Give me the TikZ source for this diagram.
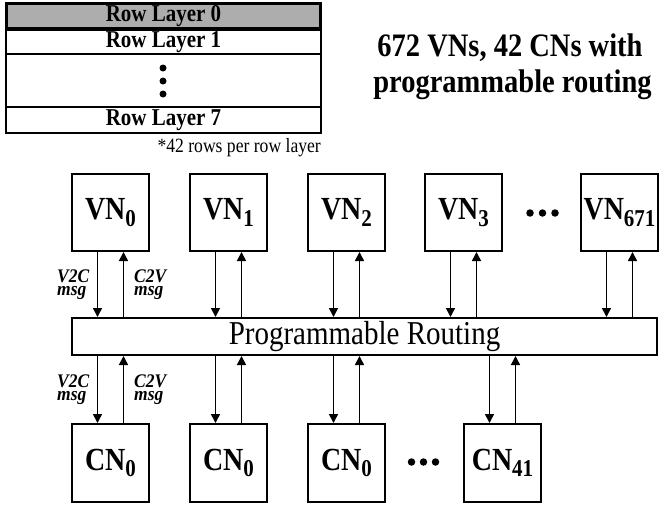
\documentclass[tikz,border=0pt]{standalone}
\usepackage{fontspec}
\setmainfont{Liberation Serif}
\usetikzlibrary{arrows.meta}
\newcommand{\sbs}[1]{\raisebox{-0.2em}{\fontsize{21}{21}\selectfont #1}}
\newcommand{\vs}[1]{\scalebox{1}[1.15]{#1}}
\newcommand{\vsl}[1]{\scalebox{1}[1.1]{#1}}
\begin{document}
\begin{tikzpicture}[x=1pt,y=-1pt,
  nbox/.style={draw, line width=2pt, minimum width=77pt, minimum height=77pt, inner sep=0pt, font=\fontsize{28}{28}\selectfont\bfseries},
  rowbox/.style={draw, line width=2pt, minimum width=315pt, inner sep=0pt, font=\fontsize{21}{21}\selectfont\bfseries},
  arr/.style={line width=1.6pt, -{Triangle[width=9pt,length=9pt]}},
  lbl/.style={inner sep=0pt, anchor=base west, font=\fontsize{17.5}{17.5}\selectfont\bfseries\itshape},
  dotc/.style={circle, fill=black, inner sep=0pt, minimum size=7.5pt}
]
\useasboundingbox (0,0) rectangle (659,506);
% row layer table
\node[rowbox, minimum height=24pt] (r1) at (163.5,42) {\vs{Row Layer 1}};
\node[rowbox, minimum height=53pt] (rd) at (163.5,80.5) {};
\node[rowbox, minimum height=26pt] (r7) at (163.5,120) {\vs{Row Layer 7}};
\node[rowbox, line width=3pt, minimum width=314pt, minimum height=25pt, fill=black!32] (r0) at (163.5,16) {\vs{Row Layer 0}};
\node[dotc, minimum size=7pt] (vd1) at (163,68) {};
\node[dotc, minimum size=7pt] (vd2) at (163,81) {};
\node[dotc, minimum size=7pt] (vd3) at (163,94) {};
\node[anchor=east, inner sep=0pt, font=\fontsize{17.6}{17.6}\selectfont] (note) at (321,148) {\vs{*42 rows per row layer}};
% title
\node[inner sep=0pt, font=\fontsize{28.5}{28.5}\selectfont\bfseries] (title1) at (510,48) {\vs{672 VNs, 42 CNs with}};
\node[inner sep=0pt, font=\fontsize{28.5}{28.5}\selectfont\bfseries] (title2) at (512.5,85) {\vs{programmable routing}};
% VNs
\node[nbox] (v0) at (110.5,212.5) {\vs{VN\sbs{0}}};
\node[nbox] (v1) at (228.5,212.5) {\vs{VN\sbs{1}}};
\node[nbox] (v2) at (346.5,212.5) {\vs{VN\sbs{2}}};
\node[nbox] (v3) at (463.5,212.5) {\vs{VN\sbs{3}}};
\node[nbox] (v671) at (619.5,212.5) {\vs{VN\sbs{671}}};
\node[dotc] (hd1) at (530,213) {};
\node[dotc] (hd2) at (542.5,213) {};
\node[dotc] (hd3) at (555,213) {};
% routing
\node[draw, line width=2pt, minimum width=585pt, minimum height=37pt, inner sep=0pt, font=\fontsize{29}{29}\selectfont] (R) at (364.5,336.5) {\vs{Programmable Routing}};
% CNs
\node[nbox, minimum height=78pt] (c0) at (110.5,463) {\vs{CN\sbs{0}}};
\node[nbox, minimum height=78pt] (c1) at (228.5,463) {\vs{CN\sbs{0}}};
\node[nbox, minimum height=78pt] (c2) at (346.5,463) {\vs{CN\sbs{0}}};
\node[nbox, minimum height=78pt] (c41) at (502.5,463) {\vs{CN\sbs{41}}};
\node[dotc] (cd1) at (411.5,462) {};
\node[dotc] (cd2) at (423.5,462) {};
\node[dotc] (cd3) at (435.5,462) {};
% arrows VN <-> routing
\foreach \n in {v0,v1,v2,v3,v671}{
  \draw[arr] ([xshift=-13pt]\n.south) -- ([xshift=-13pt]\n.south |- R.north);
  \draw[arr] ([xshift=13pt]\n.south |- R.north) -- ([xshift=13pt]\n.south);
}
% arrows routing <-> CN
\foreach \n in {c0,c1,c2,c41}{
  \draw[arr] ([xshift=-13pt]\n.north |- R.south) -- ([xshift=-13pt]\n.north);
  \draw[arr] ([xshift=13pt]\n.north) -- ([xshift=13pt]\n.north |- R.south);
}
% labels
\node[lbl] (l1a) at (57,282.3) {\vsl{V2C}};
\node[lbl] (l1b) at (57,295.8) {\vsl{msg}};
\node[lbl] (l2a) at (134,282.3) {\vsl{C2V}};
\node[lbl] (l2b) at (134,295.8) {\vsl{msg}};
\node[lbl] (l3a) at (57,387.3) {\vsl{V2C}};
\node[lbl] (l3b) at (57,400.8) {\vsl{msg}};
\node[lbl] (l4a) at (134,387.3) {\vsl{C2V}};
\node[lbl] (l4b) at (134,400.8) {\vsl{msg}};
\end{tikzpicture}
\end{document}
